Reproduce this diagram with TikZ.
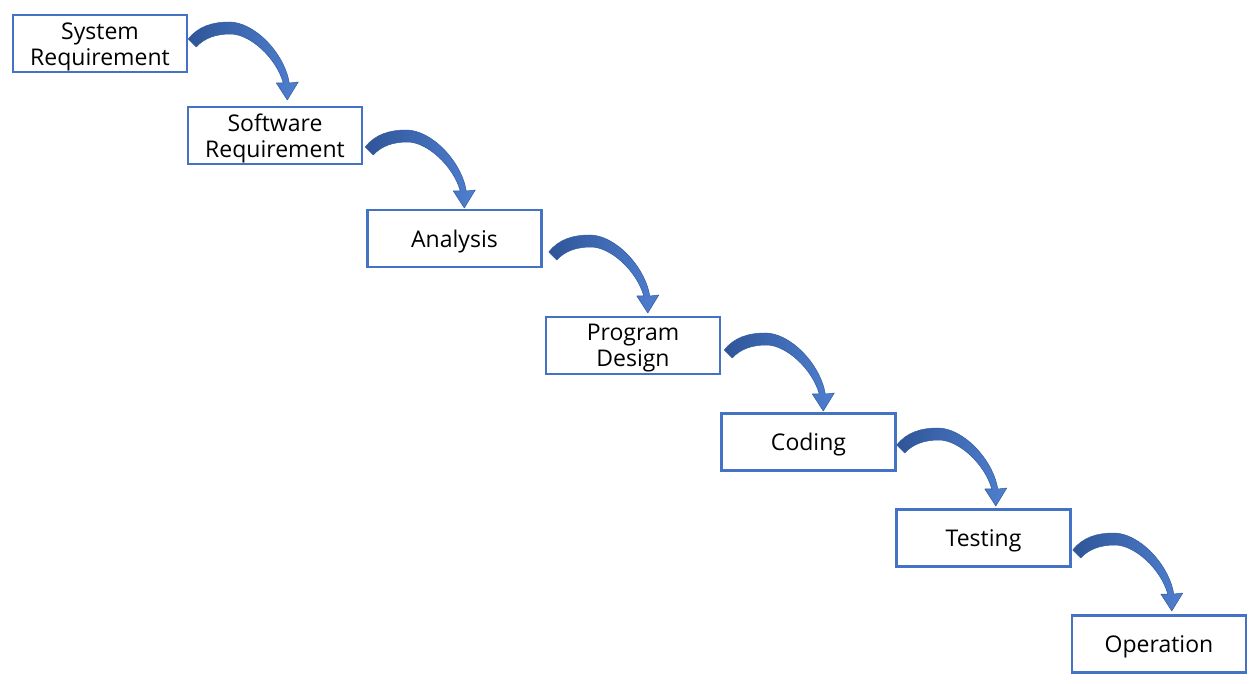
\documentclass[tikz,border=0pt]{standalone}
\usepackage{fontspec}
\setmainfont{Open Sans}
\usetikzlibrary{calc}
\definecolor{boxblue}{HTML}{4472C4}
\definecolor{arrdark}{HTML}{2F5597}
\definecolor{arrmid}{HTML}{4472C4}
\definecolor{arrlight}{HTML}{4F7FD0}
\tikzset{
  stagebox/.style={draw=boxblue, line width=2.6pt, fill=white, minimum width=174pt,
    minimum height=57pt, inner sep=0pt},
  stagetext/.style={align=center, inner sep=0pt, text=black,
    font=\fontsize{23}{26}\selectfont},
  carrow/.pic={
    \shadedraw[left color=arrdark, middle color=arrmid, right color=arrlight,
      draw=arrdark!80!arrmid, line width=0.5pt, line join=round]
      (0,0) .. controls (10,-13) and (25,-17) .. (41,-17)
      .. controls (66,-17) and (96,14) .. (101,44)
      -- (110,43) -- (99,61) -- (88,44) -- (95,44)
      .. controls (88,19) and (62,-5) .. (42,-5)
      .. controls (28,-5) and (16,-1) .. (8,8) -- cycle;
  }
}
\begin{document}
\begin{tikzpicture}[x=1pt, y=-1pt]
\useasboundingbox (0,0) rectangle (1259,684);
\node[stagebox] (n1) at (100,43.5) {};
\node[stagebox] (n2) at (275,135.5) {};
\node[stagebox] (n3) at (454.5,238.5) {};
\node[stagebox] (n4) at (633,345.5) {};
\node[stagebox] (n5) at (808.5,442) {};
\node[stagebox] (n6) at (983.5,538) {};
\node[stagebox] (n7) at (1159,644) {};
\node[stagetext] (t1) at ($(n1)+(0,3)$) {System\\Requirement};
\node[stagetext] (t2) at ($(n2)+(0,3)$) {Software\\Requirement};
\node[stagetext] (t3) at ($(n3)+(0,3)$) {Analysis};
\node[stagetext] (t4) at ($(n4)+(0,3)$) {Program\\Design};
\node[stagetext] (t5) at ($(n5)+(0,3)$) {Coding};
\node[stagetext] (t6) at ($(n6)+(0,3)$) {Testing};
\node[stagetext] (t7) at ($(n7)+(0,3)$) {Operation};
\pic at ($(n1.east)+(0,-4.5)$) {carrow};
\pic at ($(n2.east)+(2,11.5)$) {carrow};
\pic at ($(n3.east)+(6,13.5)$) {carrow};
\pic at ($(n4.east)+(3,4.5)$) {carrow};
\pic at ($(n5.east)+(0,3)$) {carrow};
\pic at ($(n6.east)+(1,12)$) {carrow};
\end{tikzpicture}
\end{document}
